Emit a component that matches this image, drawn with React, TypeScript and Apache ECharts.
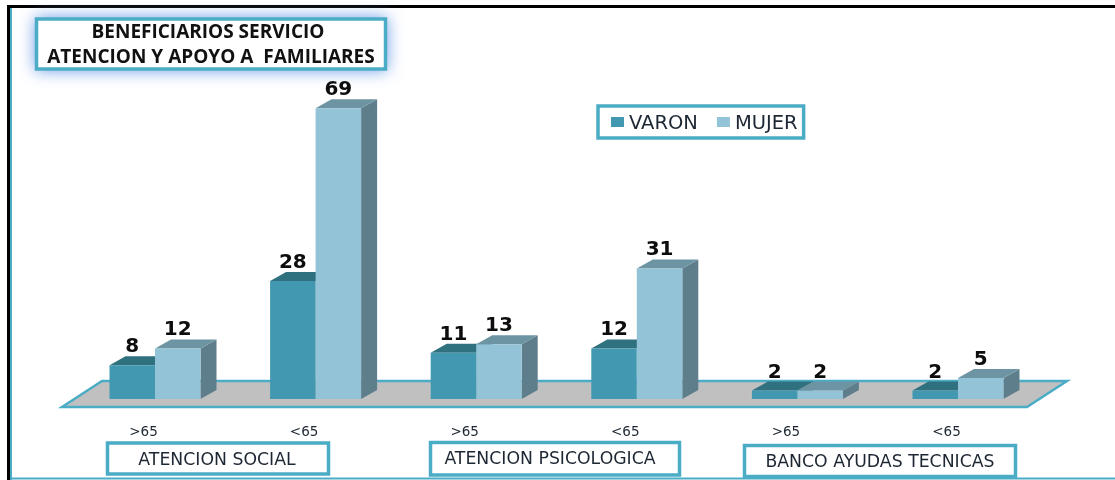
import React, { useEffect, useRef } from "react";
import * as echarts from "echarts";

const ageLabels = [">65", "<65", ">65", "<65", ">65", "<65"];
const varonValues = [8, 28, 11, 12, 2, 2];
const mujerValues = [12, 69, 13, 31, 2, 5];
const seriesNames = ["VARON", "MUJER"];
const titleLines = ["BENEFICIARIOS SERVICIO", "ATENCION Y APOYO A  FAMILIARES"];
const groupNames = ["ATENCION SOCIAL", "ATENCION PSICOLOGICA", "BANCO AYUDAS TECNICAS"];

const TEAL = "#4bacc6";
const BAR_W = 45.5;
const DX = 16;
const DY = 9;

function bar3d(side: number, front: string, top: string, right: string) {
  return (_params: any, api: any) => {
    const idx = api.value(0);
    const val = api.value(1);
    const [cx, yTop] = api.coord([idx, val]);
    const [, y0] = api.coord([idx, 0]);
    const x = side < 0 ? cx - BAR_W : cx;
    const w = BAR_W;
    return {
      type: "group",
      children: [
        { type: "polygon", shape: { points: [[x + w, yTop], [x + w + DX, yTop - DY], [x + w + DX, y0 - DY], [x + w, y0]] }, style: { fill: right } },
        { type: "polygon", shape: { points: [[x, yTop], [x + DX, yTop - DY], [x + w + DX, yTop - DY], [x + w, yTop]] }, style: { fill: top } },
        { type: "rect", shape: { x, y: yTop, width: w, height: y0 - yTop }, style: { fill: front } },
        {
          type: "text",
          style: {
            x: x + w / 2,
            y: yTop - DY - 1,
            text: String(val),
            fill: "#0d0d0d",
            font: 'bold 20px "DejaVu Sans"',
            align: "center",
            verticalAlign: "bottom",
          },
        },
      ],
    };
  };
}

function box(x: number, y: number, w: number, h: number, extra: any = {}) {
  return {
    type: "rect",
    z: 1,
    shape: { x, y, width: w, height: h },
    style: { fill: "#ffffff", stroke: TEAL, lineWidth: 3.5, ...extra },
  };
}

function label(text: string, x: number, y: number, font: string, fill = "#1d2733") {
  return { type: "text", z: 2, style: { text, x, y, font, fill, align: "center", verticalAlign: "middle" } };
}

export default function App() {
  const ref = useRef<HTMLDivElement>(null);
  useEffect(() => {
    const chart = echarts.init(ref.current!, undefined, { renderer: "svg" });
    chart.setOption({
      animation: false,
      backgroundColor: "#ffffff",
      grid: { left: 74.7, width: 963.6, top: 62, height: 337 },
      legend: {
        left: 598,
        top: 106,
        padding: [6, 6, 6, 13],
        data: seriesNames,
        icon: "rect",
        itemWidth: 13,
        itemHeight: 10,
        itemGap: 19,
        borderColor: TEAL,
        borderWidth: 3.5,
        backgroundColor: "#fff",
        textStyle: { fontFamily: "DejaVu Sans", fontSize: 19.5, color: "#1d2733" },
      },
      xAxis: {
        type: "category",
        data: ageLabels,
        axisLine: { show: false },
        axisTick: { show: false },
        axisLabel: {
          margin: 25,
          padding: [0, 23, 0, 0],
          fontFamily: "DejaVu Sans",
          fontSize: 13.5,
          color: "#1d2733",
        },
      },
      yAxis: { type: "value", min: 0, max: 80, show: false },
      series: [
        {
          name: seriesNames[0],
          type: "custom",
          itemStyle: { color: "#4198b0" },
          renderItem: bar3d(-1, "#4198b0", "#30717f", "#2f6e80"),
          data: varonValues.map((v, i) => [i, v]),
          encode: { x: 0, y: 1 },
        },
        {
          name: seriesNames[1],
          type: "custom",
          itemStyle: { color: "#93c3d6" },
          renderItem: bar3d(1, "#93c3d6", "#6d94a3", "#5f7e8b"),
          data: mujerValues.map((v, i) => [i, v]),
          encode: { x: 0, y: 1 },
        },
      ],
      graphic: [
        // floor
        {
          type: "polygon",
          z: 0,
          shape: { points: [[62, 407], [102, 381], [1067, 381], [1027, 407]] },
          style: { fill: "#c0c0c0", stroke: TEAL, lineWidth: 2.5 },
        },
        // frame
        { type: "line", z: 0, shape: { x1: 7, y1: 6.5, x2: 1115, y2: 6.5 }, style: { stroke: "#000", lineWidth: 3 } },
        { type: "line", z: 0, shape: { x1: 8.5, y1: 5, x2: 8.5, y2: 480 }, style: { stroke: "#000", lineWidth: 3 } },
        { type: "line", z: 0, shape: { x1: 11, y1: 8, x2: 11, y2: 480 }, style: { stroke: TEAL, lineWidth: 2 } },
        { type: "line", z: 0, shape: { x1: 10, y1: 478.5, x2: 1115, y2: 478.5 }, style: { stroke: TEAL, lineWidth: 2 } },
        // title
        box(36.5, 19, 349, 50, { shadowBlur: 16, shadowColor: "#6f9fe8" }),
        label(titleLines[0], 208, 31, 'bold 19px "Open Sans"', "#111"),
        label(titleLines[1], 211, 56, 'bold 19px "Open Sans"', "#111"),
        // category boxes
        box(107.5, 443, 221, 31),
        label(groupNames[0], 217, 459, '17.3px "DejaVu Sans"'),
        box(430.5, 442.5, 249, 32.5),
        label(groupNames[1], 550, 458, '17.3px "DejaVu Sans"'),
        box(744.5, 445.5, 271, 31),
        label(groupNames[2], 880, 461, '17.3px "DejaVu Sans"'),
      ],
    });
    return () => chart.dispose();
  }, []);
  return <div ref={ref} style={{ position: "fixed", left: 0, top: 0, width: 1115, height: 480, filter: "blur(0.4px)" }} />;
}
